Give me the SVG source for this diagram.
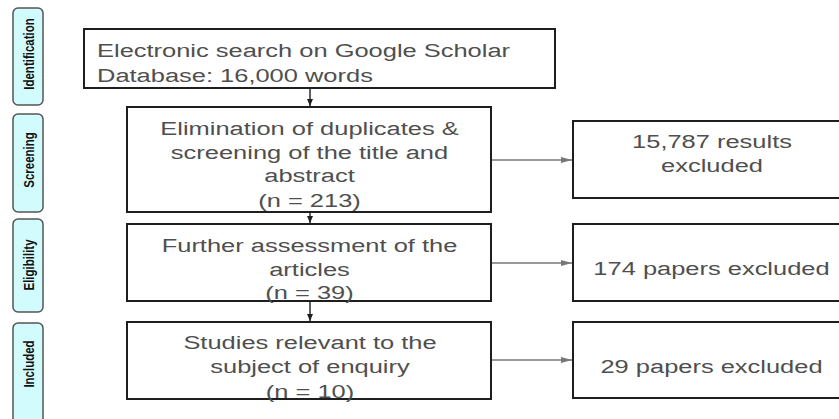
<svg xmlns="http://www.w3.org/2000/svg" width="839" height="419" viewBox="0 0 839 419">
<style>
.bg{fill:#ffffff}
.side rect{fill:#d2fbfd;stroke:#555555;stroke-width:1.5}
.side text{font-family:"Liberation Sans",Arial,sans-serif;font-weight:bold;font-size:11.5px;fill:#111111;text-anchor:middle}
.box rect{fill:#ffffff;stroke:#1e1e1e;stroke-width:2}
.box text{font-family:"Liberation Sans",Arial,sans-serif;font-size:19px;fill:#4f4f4f;text-anchor:middle}
.box text.l{text-anchor:start}
.vline{stroke:#1e1e1e;stroke-width:1.4;fill:none}
.hline{stroke:#777777;stroke-width:1.4;fill:none}
</style>
<defs>
<marker id="ab" markerWidth="8" markerHeight="8" refX="7" refY="4" orient="auto" markerUnits="userSpaceOnUse">
<path d="M0,1 L7,4 L0,7 Z" fill="#1e1e1e"/>
</marker>
<marker id="ag" markerWidth="12" markerHeight="8" refX="11" refY="4" orient="auto" markerUnits="userSpaceOnUse">
<path d="M0,1 L11,4 L0,7 Z" fill="#777777"/>
</marker>
</defs>
<rect class="bg" x="0" y="0" width="839" height="419"/>

<g id="side-identification" class="side">
<rect x="13" y="8" width="30" height="97" rx="5"/>
<text transform="translate(33.5,54) scale(1.33,1) rotate(-90)">Identification</text>
</g>
<g id="side-screening" class="side">
<rect x="13" y="114" width="30" height="98" rx="5"/>
<text transform="translate(33.5,160) scale(1.33,1) rotate(-90)">Screening</text>
</g>
<g id="side-eligibility" class="side">
<rect x="13" y="219" width="30" height="93" rx="5"/>
<text transform="translate(33.5,265) scale(1.33,1) rotate(-90)">Eligibility</text>
</g>
<g id="side-included" class="side">
<rect x="13" y="323" width="30" height="104" rx="5"/>
<text transform="translate(33.5,364) scale(1.33,1) rotate(-90)">Included</text>
</g>

<g id="connectors">
<line class="vline" x1="310" y1="88" x2="310" y2="106" marker-end="url(#ab)"/>
<line class="vline" x1="310" y1="212" x2="310" y2="223" marker-end="url(#ab)"/>
<line class="vline" x1="310" y1="301" x2="310" y2="321" marker-end="url(#ab)"/>
<line class="hline" x1="491" y1="160" x2="572" y2="160" marker-end="url(#ag)"/>
<line class="hline" x1="491" y1="263" x2="572" y2="263" marker-end="url(#ag)"/>
<line class="hline" x1="491" y1="360" x2="572" y2="360" marker-end="url(#ag)"/>
</g>

<g id="node-search" class="box">
<rect x="84" y="29" width="471" height="59"/>
<text class="l" transform="translate(97,56.5) scale(1.34,1)">Electronic search on Google Scholar</text>
<text class="l" transform="translate(97,82) scale(1.34,1)">Database: 16,000 words</text>
</g>

<g id="node-screening" class="box">
<rect x="127" y="107" width="364" height="105"/>
<text transform="translate(309.5,135) scale(1.34,1)">Elimination of duplicates &amp;</text>
<text transform="translate(309.5,158.5) scale(1.34,1)">screening of the title and</text>
<text transform="translate(309.5,182) scale(1.34,1)">abstract</text>
<text transform="translate(309.5,207) scale(1.34,1)">(n = 213)</text>
</g>

<g id="node-eligibility" class="box">
<rect x="127" y="224" width="364" height="77"/>
<text transform="translate(309.5,252) scale(1.34,1)">Further assessment of the</text>
<text transform="translate(309.5,275.5) scale(1.34,1)">articles</text>
<text transform="translate(309.5,299) scale(1.34,1)">(n = 39)</text>
</g>

<g id="node-included" class="box">
<rect x="127" y="322" width="364" height="77"/>
<text transform="translate(310,349) scale(1.34,1)">Studies relevant to the</text>
<text transform="translate(310,373) scale(1.34,1)">subject of enquiry</text>
<text transform="translate(310,398) scale(1.34,1)">(n = 10)</text>
</g>

<g id="node-excluded-1" class="box">
<rect x="573" y="121" width="280" height="77"/>
<text transform="translate(712,147.5) scale(1.34,1)">15,787 results</text>
<text transform="translate(712,172) scale(1.34,1)">excluded</text>
</g>

<g id="node-excluded-2" class="box">
<rect x="573" y="224" width="280" height="77"/>
<text transform="translate(711.5,275) scale(1.34,1)">174 papers excluded</text>
</g>

<g id="node-excluded-3" class="box">
<rect x="573" y="322" width="280" height="76"/>
<text transform="translate(711.5,373) scale(1.34,1)">29 papers excluded</text>
</g>
</svg>
